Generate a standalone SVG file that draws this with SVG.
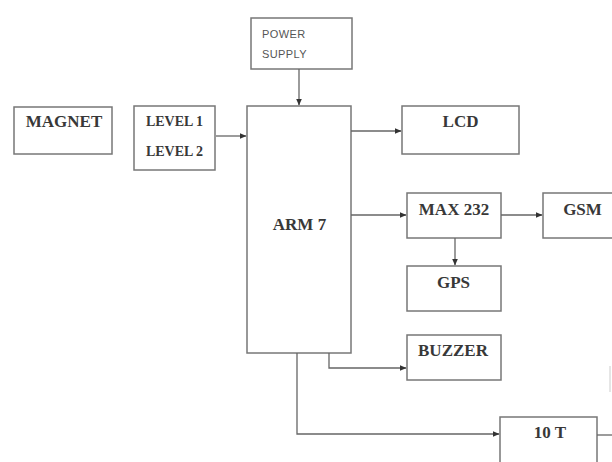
<svg xmlns="http://www.w3.org/2000/svg" width="612" height="462" viewBox="0 0 612 462">
<defs>
<marker id="ah" markerWidth="7" markerHeight="6" refX="6.5" refY="3" orient="auto" markerUnits="userSpaceOnUse">
<path d="M0,0 L7,3 L0,6 Z" fill="#333"/>
</marker>
</defs>
<style>
.box{fill:#fff;stroke:#777;stroke-width:1.5}
.t{font-family:"Liberation Serif","Times New Roman",serif;font-weight:bold;font-size:17px;fill:#383838;text-anchor:middle}
.lv{font-size:14px}
.s{font-family:"Liberation Sans",Arial,sans-serif;font-size:11px;letter-spacing:0.4px;fill:#555}
.c{fill:none;stroke:#666;stroke-width:1.3}
</style>
<rect width="612" height="462" fill="#fff"/>
<g id="power">
<rect class="box" x="251" y="18" width="101" height="51"/>
<text class="s" x="262" y="38">POWER</text>
<text class="s" x="262" y="58">SUPPLY</text>
</g>
<g id="magnet">
<rect class="box" x="14" y="107" width="98" height="47"/>
<text class="t" x="64" y="127">MAGNET</text>
</g>
<g id="level">
<rect class="box" x="134" y="106" width="81" height="64"/>
<text class="t lv" x="174.5" y="126">LEVEL 1</text>
<text class="t lv" x="174.5" y="156">LEVEL 2</text>
</g>
<g id="arm7">
<rect class="box" x="247" y="106" width="104" height="247"/>
<text class="t" x="299.5" y="230">ARM 7</text>
</g>
<g id="lcd">
<rect class="box" x="402" y="106" width="117" height="48"/>
<text class="t" x="460.5" y="127">LCD</text>
</g>
<g id="max232">
<rect class="box" x="407" y="193" width="94" height="45"/>
<text class="t" x="454" y="215">MAX 232</text>
</g>
<g id="gsm">
<rect class="box" x="543" y="193" width="75" height="45"/>
<text class="t" x="582.5" y="215">GSM</text>
</g>
<g id="gps">
<rect class="box" x="407" y="266" width="94" height="45"/>
<text class="t" x="453.5" y="288">GPS</text>
</g>
<g id="buzzer">
<rect class="box" x="407" y="335" width="94" height="45"/>
<text class="t" x="453" y="356">BUZZER</text>
</g>
<g id="iot">
<rect class="box" x="500" y="417" width="97" height="55"/>
<text class="t" x="550" y="438">10 T</text>
</g>
<g id="connectors">
<path class="c" d="M299,69 V105" marker-end="url(#ah)"/>
<path class="c" d="M216,136 H246" marker-end="url(#ah)"/>
<path class="c" d="M351,131 H401" marker-end="url(#ah)"/>
<path class="c" d="M351,215 H406" marker-end="url(#ah)"/>
<path class="c" d="M501,215 H542" marker-end="url(#ah)"/>
<path class="c" d="M455,238 V265" marker-end="url(#ah)"/>
<path class="c" d="M329,353 V368 H406" marker-end="url(#ah)"/>
<path class="c" d="M297,353 V434 H499" marker-end="url(#ah)"/>
<path class="c" d="M597,435 H612"/>
<path d="M610,366 V392" fill="none" stroke="#ccc" stroke-width="1"/>
</g>
</svg>
